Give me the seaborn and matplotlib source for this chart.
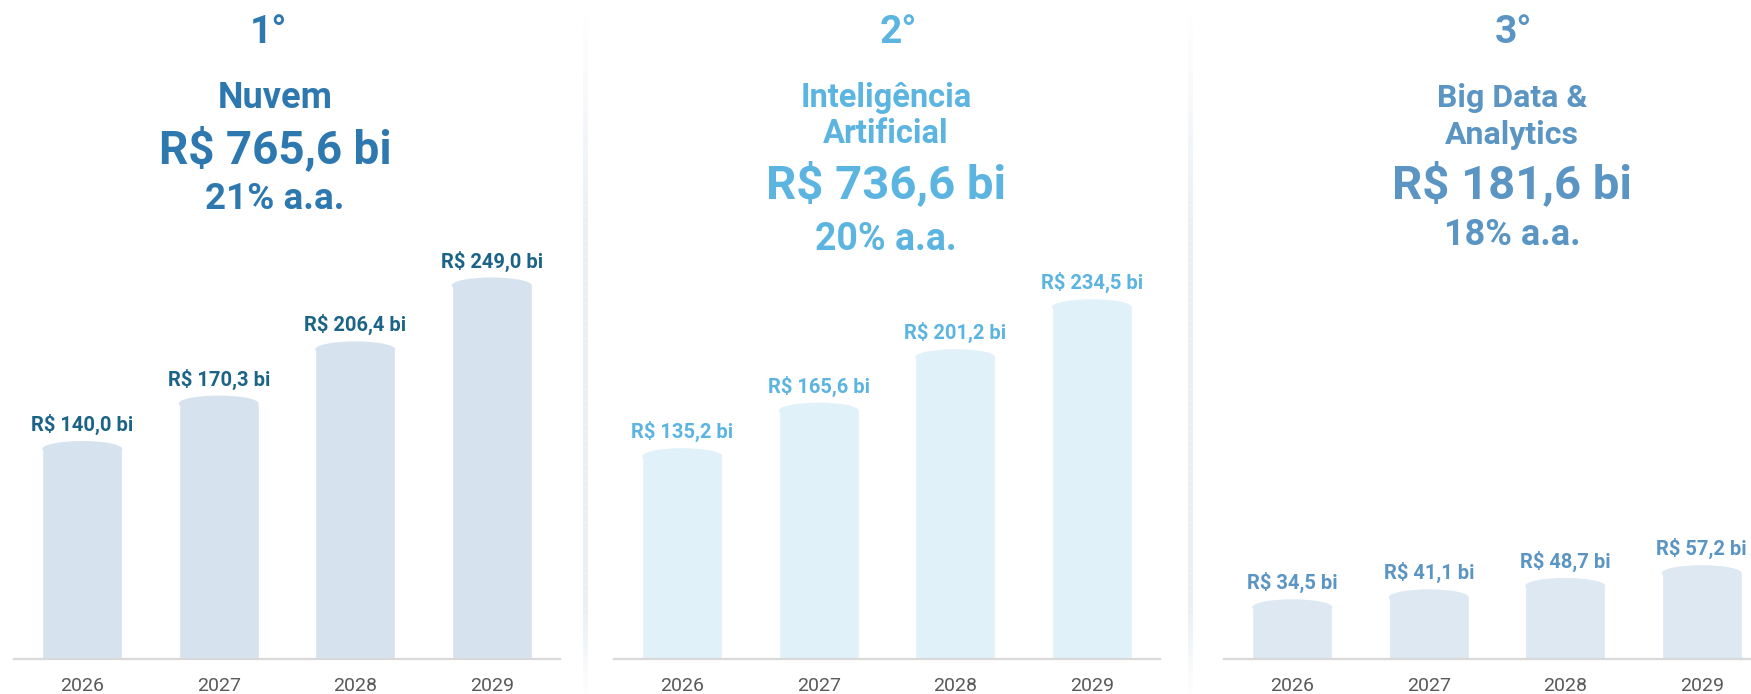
import numpy as np
import pandas as pd
import matplotlib
matplotlib.use("Agg")
import matplotlib.pyplot as plt
from matplotlib.patches import Ellipse
from matplotlib.collections import LineCollection
import seaborn as sns

# ---- data -------------------------------------------------------------
years = ["2026", "2027", "2028", "2029"]
cloud = [140.0, 170.3, 206.4, 249.0]
ai = [135.2, 165.6, 201.2, 234.5]
bigdata = [34.5, 41.1, 48.7, 57.2]

ranks = ["1°", "2°", "3°"]
titles = ["Nuvem", "Inteligência\nArtificial", "Big Data &\nAnalytics"]
totals = ["R$ 765,6 bi", "R$ 736,6 bi", "R$ 181,6 bi"]
growth = ["21% a.a.", "20% a.a.", "18% a.a."]

# ---- styles -----------------------------------------------------------
head_colors = ["#2E78B0", "#5CB5E0", "#5A95C3"]
label_colors = ["#1C6487", "#5CB5E0", "#5A95C3"]
bar_colors = ["#D6E3EE", "#E1F1F9", "#DDE8F2"]

sns.set_theme(style="white")
plt.rcParams["font.family"] = ["Roboto", "DejaVu Sans"]

W, H = 1751, 694
fig = plt.figure(figsize=(W / 100, H / 100), dpi=100)
fig.patch.set_facecolor("white")


def fx(px):
    return px / W


def fy(py):
    return 1 - py / H


# faint vertical dividers between the panels
bg = fig.add_axes([0, 0, 1, 1], zorder=-5)
bg.set_xlim(0, W)
bg.set_ylim(H, 0)
bg.axis("off")
for xd in (585, 1190):
    ys = np.linspace(10, H, 120)
    segs = [[(xd, ys[i]), (xd, ys[i + 1])] for i in range(len(ys) - 1)]
    t = (ys[:-1] - ys[0]) / (ys[-1] - ys[0])
    alpha = np.clip(np.minimum(t / 0.3, (1 - t) / 0.12), 0, 1) * 0.8
    cols = [(0.90, 0.925, 0.95, a) for a in alpha]
    bg.add_collection(LineCollection(segs, colors=cols, linewidths=3.5))

# panel geometry (pixels)
panel_left = [14, 614, 1224]
slot = 136.5
axes_w = slot * 4
base_px = 659
ymax = 300
px_per_unit = 1.5
axes_h = ymax * px_per_unit

series = [cloud, ai, bigdata]

for i, vals in enumerate(series):
    ax = fig.add_axes([fx(panel_left[i]), (H - base_px) / H, axes_w / W, axes_h / H])
    df = pd.DataFrame({"ano": years, "valor": vals})
    sns.barplot(data=df, x="ano", y="valor", color=bar_colors[i],
                saturation=1, width=0.586, ax=ax, zorder=2)
    ax.set_ylim(0, ymax)
    ax.set_xlim(-0.5, 3.5)
    ax.set_xlabel("")
    ax.set_ylabel("")
    ax.set_yticks([])
    for s in ("top", "left", "right"):
        ax.spines[s].set_visible(False)
    ax.spines["bottom"].set_color("#D9D9D9")
    ax.spines["bottom"].set_linewidth(1.6)
    ax.spines["bottom"].set_zorder(3)
    ax.tick_params(axis="x", length=0, pad=13, labelsize=14, labelcolor="#595959")
    ax.set_facecolor("none")

    cap_h = 16 / px_per_unit
    for p, v in zip(ax.patches, vals):
        xc = p.get_x() + p.get_width() / 2
        ax.add_patch(Ellipse((xc, p.get_height()), p.get_width(), cap_h,
                             facecolor=bar_colors[i], edgecolor="none", zorder=2))
        lab = f"R$ {v:.1f} bi".replace(".", ",")
        ax.annotate(lab, xy=(xc, v), xytext=(0, 13), textcoords="offset points",
                    ha="center", va="baseline", fontsize=14.5, fontweight="bold",
                    color=label_colors[i])

# panel headers
head_x = [275, 886, 1512]
c = head_colors
fig.text(fx(268), fy(43), ranks[0], ha="center", va="baseline",
         fontsize=28, fontweight="bold", color=c[0])
fig.text(fx(head_x[0]), fy(108), titles[0], ha="center", va="baseline",
         fontsize=26, fontweight="bold", color=c[0])
fig.text(fx(head_x[0]), fy(163), totals[0], ha="center", va="baseline",
         fontsize=33, fontweight="bold", color=c[0])
fig.text(fx(head_x[0]), fy(209), growth[0], ha="center", va="baseline",
         fontsize=26.5, fontweight="bold", color=c[0])

t1, t2 = titles[1].split("\n")
fig.text(fx(898), fy(43), ranks[1], ha="center", va="baseline",
         fontsize=28, fontweight="bold", color=c[1])
fig.text(fx(head_x[1]), fy(107), t1, ha="center", va="baseline",
         fontsize=23.5, fontweight="bold", color=c[1])
fig.text(fx(head_x[1]), fy(143), t2, ha="center", va="baseline",
         fontsize=23.5, fontweight="bold", color=c[1])
fig.text(fx(head_x[1]), fy(198), totals[1], ha="center", va="baseline",
         fontsize=34, fontweight="bold", color=c[1])
fig.text(fx(head_x[1]), fy(250), growth[1], ha="center", va="baseline",
         fontsize=27, fontweight="bold", color=c[1])

t1, t2 = titles[2].split("\n")
fig.text(fx(1513), fy(43), ranks[2], ha="center", va="baseline",
         fontsize=28, fontweight="bold", color=c[2])
fig.text(fx(head_x[2]), fy(107), t1, ha="center", va="baseline",
         fontsize=23, fontweight="bold", color=c[2])
fig.text(fx(head_x[2]), fy(144), t2, ha="center", va="baseline",
         fontsize=23, fontweight="bold", color=c[2])
fig.text(fx(head_x[2]), fy(198), totals[2], ha="center", va="baseline",
         fontsize=34, fontweight="bold", color=c[2])
fig.text(fx(head_x[2]), fy(245), growth[2], ha="center", va="baseline",
         fontsize=26, fontweight="bold", color=c[2])

fig.savefig("out.png", dpi=100, facecolor="white")
